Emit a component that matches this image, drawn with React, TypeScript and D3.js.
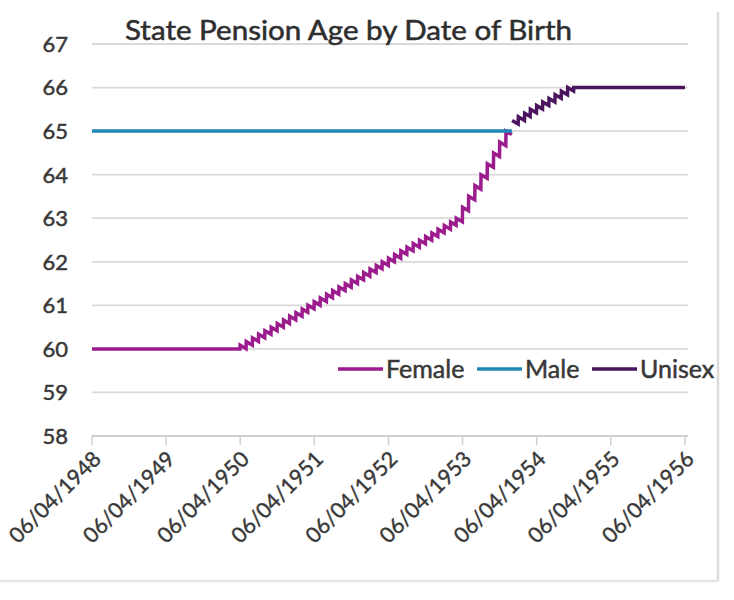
import { useEffect, useRef } from 'react';
import * as d3 from 'd3';

// x axis: one tick per year, every 6 April
const tickDates = [
    '1948-04-06', '1949-04-06', '1950-04-06', '1951-04-06', '1952-04-06',
    '1953-04-06', '1954-04-06', '1955-04-06', '1956-04-06',
];
const ageTicks = [58, 59, 60, 61, 62, 63, 64, 65, 66, 67];

// Male: flat 65 until the unisex timetable starts
const maleDates = ['1948-04-06', '1953-12-05'];
const maleAges = [65, 65];

// Female: flat 60 before the rise starts
const femaleFlatDates = ['1948-04-06', '1950-04-05'];
const femaleFlatAges = [60, 60];

// Female birth bands (each band runs from the 6th of the month), last entry closes the final band
const femaleBands = [
    '1950-04', '1950-05', '1950-06', '1950-07', '1950-08', '1950-09', '1950-10', '1950-11', '1950-12',
    '1951-01', '1951-02', '1951-03', '1951-04', '1951-05', '1951-06', '1951-07', '1951-08', '1951-09',
    '1951-10', '1951-11', '1951-12', '1952-01', '1952-02', '1952-03', '1952-04', '1952-05', '1952-06',
    '1952-07', '1952-08', '1952-09', '1952-10', '1952-11', '1952-12', '1953-01', '1953-02', '1953-03',
    '1953-04', '1953-05', '1953-06', '1953-07', '1953-08', '1953-09', '1953-10', '1953-11', '1953-12',
];
// date the pension starts for each female band
const femalePensionDates = [
    '2010-05', '2010-07', '2010-09', '2010-11', '2011-01', '2011-03', '2011-05', '2011-07', '2011-09',
    '2011-11', '2012-01', '2012-03', '2012-05', '2012-07', '2012-09', '2012-11', '2013-01', '2013-03',
    '2013-05', '2013-07', '2013-09', '2013-11', '2014-01', '2014-03', '2014-05', '2014-07', '2014-09',
    '2014-11', '2015-01', '2015-03', '2015-05', '2015-07', '2015-09', '2015-11', '2016-01', '2016-03',
    '2016-07', '2016-11', '2017-03', '2017-07', '2017-11', '2018-03', '2018-07', '2018-11',
];

// Unisex birth bands and pension dates
const unisexBands = [
    '1953-12', '1954-01', '1954-02', '1954-03', '1954-04', '1954-05',
    '1954-06', '1954-07', '1954-08', '1954-09', '1954-10',
];
const unisexPensionDates = [
    '2019-03', '2019-05', '2019-07', '2019-09', '2019-11',
    '2020-01', '2020-03', '2020-05', '2020-07', '2020-09',
];
const unisexFlatDates = ['1954-10-06', '1956-04-06'];
const unisexFlatAges = [66, 66];

const COLORS = {
    female: '#9c1c8e',
    male: '#1f88b6',
    unisex: '#4b145f',
};

const parse = d3.timeParse('%Y-%m-%d');
const DAY = 864e5;
const YEAR = 365.25 * DAY;

type Pt = { date: Date; age: number };

function flatPoints(dates: string[], ages: number[]): Pt[] {
    return dates.map((d, i) => ({ date: parse(d) as Date, age: ages[i] }));
}

// each band gives a point at its first and last birth date; age = pension date - birth date
function bandPoints(bands: string[], pensions: string[]): Pt[] {
    const pts: Pt[] = [];
    pensions.forEach((p, i) => {
        const spa = parse(p + '-06') as Date;
        const start = parse(bands[i] + '-06') as Date;
        const end = new Date((parse(bands[i + 1] + '-06') as Date).getTime() - DAY);
        pts.push({ date: start, age: (spa.getTime() - start.getTime()) / YEAR });
        pts.push({ date: end, age: (spa.getTime() - end.getTime()) / YEAR });
    });
    return pts;
}

const FONT = 'Lato, "Open Sans", sans-serif';
const TEXT = '#383838';

export default function App() {
    const svgRef = useRef<SVGSVGElement>(null);
    const width = 734;
    const height = 600;

    useEffect(() => {
        if (!svgRef.current) return;
        const svg = d3.select(svgRef.current);
        svg.selectAll('*').remove();

        const x = d3
            .scaleTime()
            .domain([parse(tickDates[0]) as Date, parse(tickDates[tickDates.length - 1]) as Date])
            .range([92, 685]);
        const y = d3.scaleLinear().domain([58, 67]).range([436, 44]);

        // chart frame (right and bottom edge visible)
        svg.append('rect').attr('width', width).attr('height', height).attr('fill', '#fff');
        svg.append('line').attr('x1', 718).attr('x2', 718).attr('y1', 12).attr('y2', 581)
            .attr('stroke', '#dcdcdc').attr('stroke-width', 2.5);
        svg.append('line').attr('x1', 0).attr('x2', 718).attr('y1', 581).attr('y2', 581)
            .attr('stroke', '#e4e4e4').attr('stroke-width', 2.5);

        // gridlines
        svg.append('g')
            .selectAll('line')
            .data(ageTicks.slice(1))
            .enter()
            .append('line')
            .attr('x1', 92)
            .attr('x2', 688)
            .attr('y1', (d) => y(d))
            .attr('y2', (d) => y(d))
            .attr('stroke', '#d9d9d9')
            .attr('stroke-width', 1.8);

        // y labels
        svg.append('g')
            .selectAll('text')
            .data(ageTicks)
            .enter()
            .append('text')
            .attr('x', 68)
            .attr('y', (d) => y(d))
            .attr('dy', '0.36em')
            .attr('text-anchor', 'end')
            .attr('font-family', FONT)
            .attr('font-size', 22)
            .attr('fill', TEXT)
            .attr('stroke', TEXT)
            .attr('stroke-width', 0.5)
            .text((d) => d);

        // x axis
        const xAxis = svg.append('g').attr('transform', `translate(0, ${y(58)})`);
        xAxis.append('line').attr('x1', 92).attr('x2', 688).attr('stroke', '#cfcfcf').attr('stroke-width', 1.8);
        const ticks = xAxis
            .selectAll('g.tick')
            .data(tickDates)
            .enter()
            .append('g')
            .attr('class', 'tick')
            .attr('transform', (d) => `translate(${x(parse(d) as Date)}, 0)`);
        ticks.append('line').attr('y1', 0).attr('y2', 9).attr('stroke', '#cfcfcf').attr('stroke-width', 1.5);
        ticks
            .append('text')
            .attr('transform', 'translate(5, 19) rotate(-45)')
            .attr('text-anchor', 'end')
            .attr('dy', '0.35em')
            .attr('font-family', FONT)
            .attr('font-size', 21.5)
            .attr('fill', TEXT)
            .attr('stroke', TEXT)
            .attr('stroke-width', 0.4)
            .text((d) => {
                const [yy, mm, dd] = d.split('-');
                return `${dd}/${mm}/${yy}`;
            });

        const line = d3
            .line<Pt>()
            .x((d) => x(d.date))
            .y((d) => y(d.age));

        const series = [
            { pts: [...flatPoints(femaleFlatDates, femaleFlatAges), ...bandPoints(femaleBands, femalePensionDates)], color: COLORS.female },
            { pts: flatPoints(maleDates, maleAges), color: COLORS.male },
            { pts: [...bandPoints(unisexBands, unisexPensionDates), ...flatPoints(unisexFlatDates, unisexFlatAges)], color: COLORS.unisex },
        ];

        svg.append('g')
            .selectAll('path')
            .data(series)
            .enter()
            .append('path')
            .attr('d', (d) => line(d.pts))
            .attr('fill', 'none')
            .attr('stroke', (d) => d.color)
            .attr('stroke-width', 3.5)
            .attr('stroke-linejoin', 'miter');

        // title
        svg.append('text')
            .attr('x', 125)
            .attr('y', 40)
            .attr('font-family', FONT)
            .attr('font-size', 26)
            .attr('fill', '#2e2e2e')
            .attr('stroke', '#2e2e2e')
            .attr('stroke-width', 0.5)
            .attr('textLength', 447)
            .attr('lengthAdjust', 'spacingAndGlyphs')
            .text('State Pension Age by Date of Birth');

        // legend
        const legend = [
            { name: 'Female', color: COLORS.female, x: 338 },
            { name: 'Male', color: COLORS.male, x: 477 },
            { name: 'Unisex', color: COLORS.unisex, x: 592 },
        ];
        const items = svg.append('g')
            .selectAll('g')
            .data(legend)
            .enter()
            .append('g')
            .attr('transform', (d) => `translate(${d.x}, 369)`);
        items.append('line').attr('x1', 0).attr('x2', 45).attr('stroke', (d) => d.color).attr('stroke-width', 3.5);
        items.append('text')
            .attr('x', 48)
            .attr('dy', '0.36em')
            .attr('font-family', FONT)
            .attr('font-size', 25)
            .attr('fill', TEXT)
            .attr('stroke', TEXT)
            .attr('stroke-width', 0.5)
            .text((d) => d.name);
    }, []);

    return (
        <svg
            ref={svgRef}
            width={width}
            height={height}
            style={{ position: 'absolute', left: 0, top: 0, display: 'block' }}
        />
    );
}
